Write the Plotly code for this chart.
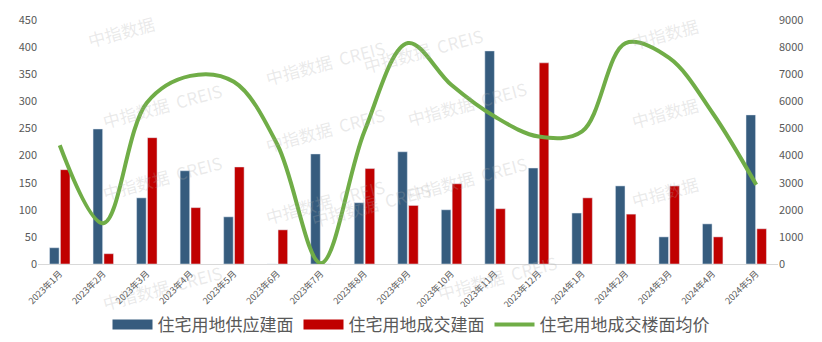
import plotly.graph_objects as go

months = ["2023年1月", "2023年2月", "2023年3月", "2023年4月", "2023年5月", "2023年6月",
          "2023年7月", "2023年8月", "2023年9月", "2023年10月", "2023年11月", "2023年12月",
          "2024年1月", "2024年2月", "2024年3月", "2024年4月", "2024年5月"]
supply_area = [30, 249, 122, 172, 87, 0, 203, 113, 207, 100, 393, 177, 94, 144, 50, 74, 275]
deal_area = [174, 19, 233, 104, 179, 63, 0, 176, 108, 148, 102, 371, 122, 92, 144, 50, 65]
avg_price = [4380, 1500, 5950, 6940, 6720, 4400, 30, 4900, 8150, 6600, 5430, 4700, 4890, 8150, 7600, 5560, 2920]

left_ticks = list(range(0, 451, 50))
right_ticks = list(range(0, 9001, 1000))

font_family = "Noto Sans CJK SC, Noto Sans, sans-serif"
blue = "#365C7E"
red = "#C00000"
green = "#70AD47"

fig = go.Figure()
fig.add_trace(go.Bar(x=months, y=supply_area, name="住宅用地供应建面",
                     marker_color=blue, showlegend=False))
fig.add_trace(go.Bar(x=months, y=deal_area, name="住宅用地成交建面",
                     marker_color=red, showlegend=False))
fig.add_trace(go.Scatter(x=months, y=avg_price, name="住宅用地成交楼面均价",
                         mode="lines", yaxis="y2", showlegend=False,
                         line=dict(color=green, width=4, shape="spline", smoothing=1.0)))
# legend-only entries (wide rectangle swatches like the reference)
for nm, col, w in [("住宅用地供应建面", blue, 10), ("住宅用地成交建面", red, 10),
                   ("住宅用地成交楼面均价", green, 4)]:
    fig.add_trace(go.Scatter(x=[None], y=[None], mode="lines", name=nm,
                             line=dict(color=col, width=w), hoverinfo="skip"))

# watermarks
wm = [(0.06, 1.05, "中指数据"), (0.30, 0.95, "中指数据  CREIS"), (0.08, 0.65, "中指数据  CREIS"),
      (0.30, 0.55, "中指数据  CREIS"), (0.08, 0.23, "中指数据  CREIS"), (0.30, 0.13, "中指数据  CREIS"),
      (0.08, -0.22, "中指数据  CREIS"), (0.58, 0.78, "中指数据  CREIS"), (0.58, 0.35, "中指数据  CREIS"),
      (0.90, 1.04, "中指数据"), (0.90, 0.62, "中指数据"), (0.90, 0.20, "中指数据"),
      (0.52, 1.00, "中指数据  CREIS"), (0.62, -0.18, "中指数据  CREIS"), (0.45, 0.12, "中指数据  CREIS")]
annotations = []
for x, y, t in wm:
    annotations.append(dict(x=x, y=y, xref="paper", yref="paper", text=t, showarrow=False,
                            textangle=-15, font=dict(size=17, color="rgba(170,170,170,0.25)",
                                                     family=font_family)))

fig.update_layout(
    width=822, height=342,
    margin=dict(l=38, r=44, t=20, b=78),
    paper_bgcolor="white", plot_bgcolor="white",
    font=dict(family=font_family, color="#595959"),
    barmode="group", bargap=0.5, bargroupgap=0.12,
    showlegend=True,
    legend=dict(orientation="h", x=0.5, xanchor="center", xref="container",
                y=1 - 325 / 342, yanchor="middle", yref="container",
                font=dict(size=17, color="#595959"), itemwidth=40, traceorder="normal"),
    xaxis=dict(type="category", tickangle=-45, tickfont=dict(size=9, color="#595959"),
               showline=True, linecolor="#D9D9D9", linewidth=1, ticks="", showgrid=False,
               automargin=False),
    yaxis=dict(range=[0, 450], tickvals=left_ticks, showgrid=False, zeroline=False,
               tickfont=dict(size=11, color="#595959"), ticks="", automargin=False),
    yaxis2=dict(range=[0, 9000], tickvals=right_ticks, overlaying="y", side="right",
                showgrid=False, zeroline=False, tickfont=dict(size=11, color="#595959"), ticks="",
                automargin=False),
    annotations=annotations,
)

fig.write_html("out.html")
